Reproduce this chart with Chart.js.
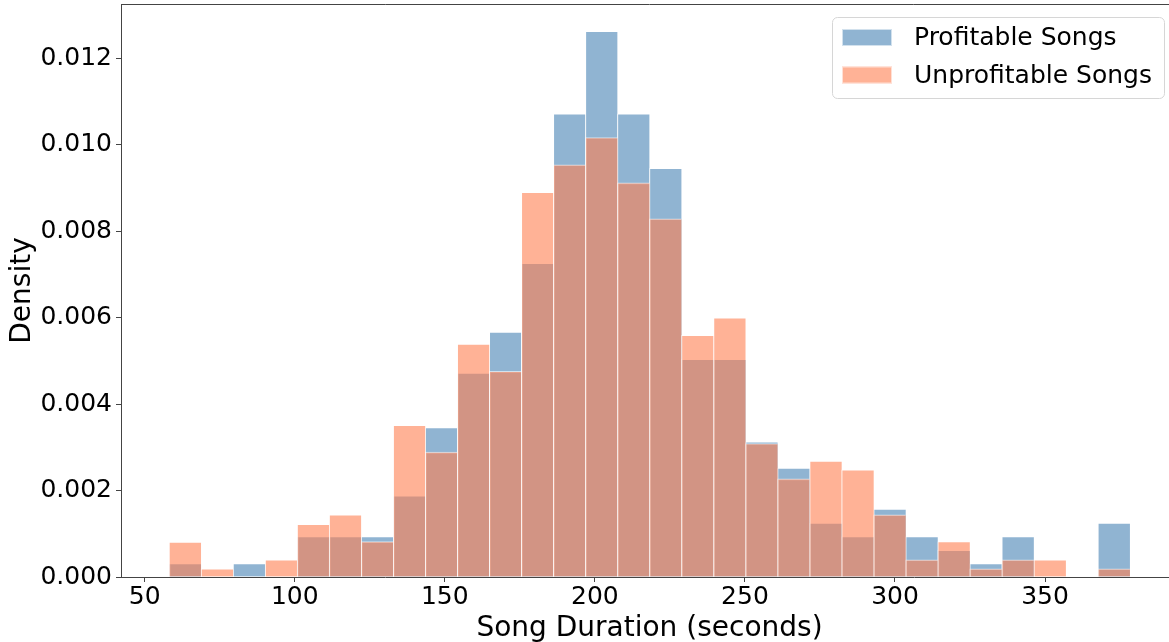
<!DOCTYPE html>
<html>
<head>
<meta charset="utf-8">
<script src="https://cdn.jsdelivr.net/npm/chart.js@4.4.0/dist/chart.umd.min.js"></script>
<style>
  html, body { margin: 0; padding: 0; overflow: hidden; background: #fff; }
  #wrap { width: 1180px; height: 642px; }
</style>
</head>
<body>
<div id="wrap"><canvas id="hist"></canvas></div>
<script>
let binCenters = [63.44, 74.11, 84.78, 95.46, 106.13, 116.80, 127.48, 138.15, 148.82, 159.49,
  170.17, 180.84, 191.51, 202.19, 212.86, 223.53, 234.20, 244.88, 255.55, 266.22,
  276.90, 287.57, 298.24, 308.91, 319.59, 330.26, 340.93, 351.61, 362.28, 372.95]

let profitable = [0.00031, 0, 0.00031, 0, 0.000935, 0.000935, 0.000935, 0.00188, 0.00346, 0.00472,
  0.00567, 0.00726, 0.01072, 0.01263, 0.01072, 0.00946, 0.00504, 0.00504, 0.00313, 0.00252,
  0.00125, 0.000935, 0.00157, 0.000935, 0.00062, 0.00031, 0.000935, 0, 0, 0.00125]

let unprofitable = [0.00081, 0.00019, 0, 0.0004, 0.00122, 0.00144, 0.00082, 0.00351, 0.00289, 0.00539,
  0.00476, 0.0089, 0.00954, 0.01017, 0.00912, 0.00829, 0.00559, 0.006, 0.00309, 0.00227,
  0.00268, 0.00248, 0.00144, 0.0004, 0.00082, 0.00019, 0.0004, 0.0004, 0, 0.00019]

let seriesNames = ['Profitable Songs', 'Unprofitable Songs']
let xTicks = [50, 100, 150, 200, 250, 300, 350]
let yTicks = [0, 0.002, 0.004, 0.006, 0.008, 0.010, 0.012]

let blue = 'rgba(70,130,180,0.6)'
let coral = 'rgba(255,127,80,0.6)'
let edge = 'rgba(255,255,255,0.6)'
let font = 'DejaVu Sans'

Chart.defaults.font.family = font
Chart.defaults.color = '#000'

let toPoints = values => values.map((v, i) => ({ x: binCenters[i], y: v }))

// matplotlib style legend box inside the axes, upper right
let boxLegend = {
  id: 'boxLegend',
  afterDraw(chart) {
    let ctx = chart.ctx
    let area = chart.chartArea
    let w = 332, h = 81
    let left = area.right - 14 - w
    let top = area.top + 13
    ctx.save()
    ctx.beginPath()
    ctx.roundRect(left + 0.5, top + 0.5, w, h, 5)
    ctx.fillStyle = 'rgba(255,255,255,0.8)'
    ctx.fill()
    ctx.strokeStyle = '#d6d6d6'
    ctx.lineWidth = 1
    ctx.stroke()
    let colors = [blue, coral]
    seriesNames.forEach((name, i) => {
      let cy = top + 20.5 + i * 37.5
      ctx.fillStyle = colors[i]
      ctx.fillRect(left + 10, cy - 8.5, 50, 17)
      ctx.strokeStyle = edge
      ctx.strokeRect(left + 10.5, cy - 8, 49, 16)
      ctx.fillStyle = '#000'
      ctx.font = '25px "' + font + '"'
      ctx.textBaseline = 'middle'
      ctx.textAlign = 'left'
      ctx.fillText(name, left + 82, cy + 1)
    })
    // top and right spines
    ctx.strokeStyle = '#444'
    ctx.beginPath()
    ctx.moveTo(area.left, area.top + 0.5)
    ctx.lineTo(area.right, area.top + 0.5)
    ctx.moveTo(area.right - 0.5, area.top)
    ctx.lineTo(area.right - 0.5, area.bottom)
    ctx.stroke()
    ctx.restore()
  }
}

let noEdgePadding = scale => {
  scale.paddingTop = 0
  scale.paddingBottom = 0
  scale.paddingLeft = 0
  scale.paddingRight = 0
}

new Chart(document.getElementById('hist'), {
  type: 'bar',
  data: {
    datasets: [{
      label: seriesNames[0],
      data: toPoints(profitable),
      backgroundColor: blue,
      borderColor: edge,
      borderWidth: { top: 1, left: 1, right: 0, bottom: 0 },
      grouped: false,
      order: 1,
      categoryPercentage: 1,
      barPercentage: 1
    }, {
      label: seriesNames[1],
      data: toPoints(unprofitable),
      backgroundColor: coral,
      borderColor: edge,
      borderWidth: { top: 1, left: 1, right: 0, bottom: 0 },
      grouped: false,
      order: 0,
      categoryPercentage: 1,
      barPercentage: 1
    }]
  },
  options: {
    responsive: true,
    maintainAspectRatio: false,
    animation: false,
    layout: { padding: { left: 0, right: 2, top: 4, bottom: 0 } },
    plugins: {
      legend: { display: false },
      tooltip: { enabled: false }
    },
    scales: {
      x: {
        type: 'linear',
        min: 42.1,
        max: 394.3,
        offset: false,
        z: 1,
        afterFit: scale => { scale.height = 65; noEdgePadding(scale) },
        afterBuildTicks: scale => { scale.ticks = xTicks.map(v => ({ value: v })) },
        ticks: {
          font: { size: 25 },
          padding: 0,
          maxRotation: 0,
          includeBounds: false
        },
        grid: { drawOnChartArea: false, offset: false, tickLength: 5, color: '#444' },
        border: { display: true, color: '#444', width: 1 },
        title: {
          display: true,
          text: 'Song Duration (seconds)',
          font: { size: 28 },
          padding: { top: 0, bottom: -4 }
        }
      },
      y: {
        min: 0,
        max: 0.01326,
        z: 1,
        afterFit: scale => { scale.width = 121; noEdgePadding(scale) },
        afterBuildTicks: scale => { scale.ticks = yTicks.map(v => ({ value: v })) },
        ticks: {
          font: { size: 25 },
          padding: 4,
          includeBounds: false,
          callback: v => v.toFixed(3)
        },
        grid: { drawOnChartArea: false, offset: false, tickLength: 5, color: '#444' },
        border: { display: true, color: '#444', width: 1 },
        title: {
          display: true,
          text: 'Density',
          font: { size: 28 },
          padding: { top: 6, bottom: 0 }
        }
      }
    }
  },
  plugins: [boxLegend]
})
</script>
</body>
</html>
